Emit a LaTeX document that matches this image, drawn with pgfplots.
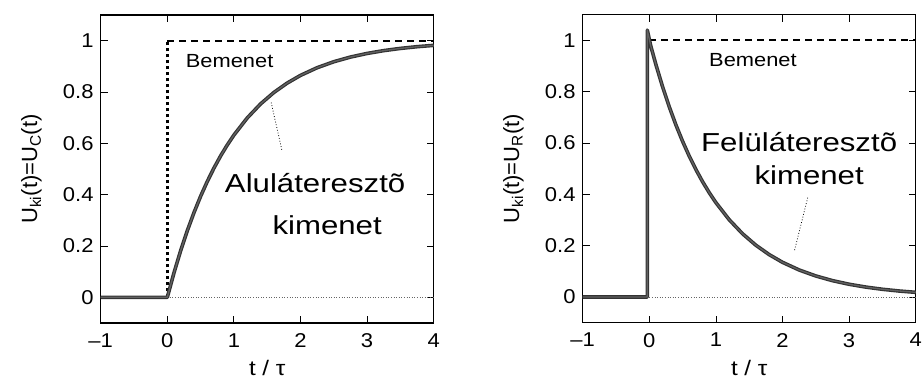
\documentclass[border=0pt]{standalone}
\usepackage{fontspec}
\setmainfont{Liberation Sans}
\usepackage{pgfplots}
\pgfplotsset{compat=1.18}

\pgfplotstableread{
t y
-1 0
0 0
0.1 0.0952
0.2 0.1813
0.3 0.2592
0.4 0.3297
0.5 0.3935
0.6 0.4512
0.7 0.5034
0.8 0.5507
0.9 0.5934
1.0 0.6321
1.2 0.6988
1.4 0.7534
1.6 0.7981
1.8 0.8347
2.0 0.8647
2.25 0.8946
2.5 0.9179
2.75 0.9361
3.0 0.9502
3.25 0.9612
3.5 0.9698
3.75 0.9765
4.0 0.9817
}\lowpass

\pgfplotstableread{
t y
-1 0
-0.03 0
-0.03 1.04
0.02 0.98
0.1 0.9048
0.2 0.8187
0.3 0.7408
0.4 0.6703
0.5 0.6065
0.6 0.5488
0.7 0.4966
0.8 0.4493
0.9 0.4066
1.0 0.3679
1.2 0.3012
1.4 0.2466
1.6 0.2019
1.8 0.1653
2.0 0.1353
2.25 0.1054
2.5 0.0821
2.75 0.0639
3.0 0.0498
3.25 0.0388
3.5 0.0302
3.75 0.0235
4.0 0.0183
}\highpass

\pgfplotsset{
  panel/.style={
    scale only axis,
    anchor=south west,
    width=333pt, height=308pt,
    xmin=-1, xmax=4, ymin=-0.1, ymax=1.1,
    xtick={-1,0,1,2,3,4},
    xticklabels={\textendash1,0,1,2,3,4},
    ytick={0,0.2,0.4,0.6,0.8,1},
    yticklabels={0,0.2,0.4,0.6,0.8,1},
    tick align=inside,
    major tick length=7pt,
    axis line style={line width=1.2pt},
    every tick/.style={black, line width=0.8pt},
    xticklabel style={font=\fontsize{20}{22}\selectfont, xscale=1.1, yshift=-7pt},
    yticklabel style={font=\fontsize{20}{22}\selectfont, xscale=1.1, xshift=-3pt},
    xlabel={t / τ},
    xlabel style={font=\fontsize{21}{24}\selectfont, xscale=1.15, yshift=-8pt, inner ysep=1pt},
    ylabel style={font=\fontsize{22}{24}\selectfont, yshift=14pt},
    clip=false,
  },
  outer/.style={black!80, line width=3.6pt, line join=round},
  inner/.style={black!62, line width=1.3pt, line join=round},
}

\begin{document}
\begin{tikzpicture}[x=1pt,y=1pt]
\begin{axis}[panel, at={(100.7pt,60pt)},
  ylabel={U\textsubscript{ki}(t)=U\textsubscript{C}(t)}]
  \addplot[black!60, line width=0.6pt, dotted] coordinates {(0,0) (4,0)};
  \addplot[black, line width=3pt, dash pattern=on 3pt off 3pt] coordinates {(0,0) (0,1)};
  \addplot[black, line width=2pt, dash pattern=on 7pt off 5pt] coordinates {(0,1) (4,1)};
  \addplot[outer] table[x=t,y=y] {\lowpass};
  \addplot[inner] table[x=t,y=y] {\lowpass};
  \addplot[black, line width=0.8pt, dotted] coordinates {(1.56,0.759) (1.72,0.574)};
  \node[anchor=base, font=\fontsize{19}{22}\selectfont, xscale=1.15] at (axis cs:0.936,0.896) {Bemenet};
  \node[anchor=base, font=\fontsize{26}{30}\selectfont, xscale=1.2] at (axis cs:2.22,0.409) {Aluláteresztõ};
  \node[anchor=base, font=\fontsize{26}{30}\selectfont, xscale=1.2] at (axis cs:2.40,0.245) {kimenet};
\end{axis}
\begin{axis}[panel, at={(582.7pt,60.3pt)},
  ylabel={U\textsubscript{ki}(t)=U\textsubscript{R}(t)}]
  \addplot[black!60, line width=0.6pt, dotted] coordinates {(0,0) (4,0)};
  \addplot[black, line width=2pt, dash pattern=on 7pt off 5pt] coordinates {(0,1) (4,1)};
  \addplot[outer] table[x=t,y=y] {\highpass};
  \addplot[inner] table[x=t,y=y] {\highpass};
  \addplot[black, line width=0.8pt, dotted] coordinates {(2.378,0.387) (2.178,0.179)};
  \node[anchor=base, font=\fontsize{19}{22}\selectfont, xscale=1.15] at (axis cs:1.556,0.899) {Bemenet};
  \node[anchor=base, font=\fontsize{26}{30}\selectfont, xscale=1.2] at (axis cs:2.25,0.568) {Felüláteresztõ};
  \node[anchor=base, font=\fontsize{26}{30}\selectfont, xscale=1.2] at (axis cs:2.40,0.438) {kimenet};
\end{axis}
\pgfresetboundingbox
\path[use as bounding box] (0,0) rectangle (924pt,383pt);
\end{tikzpicture}
\end{document}
